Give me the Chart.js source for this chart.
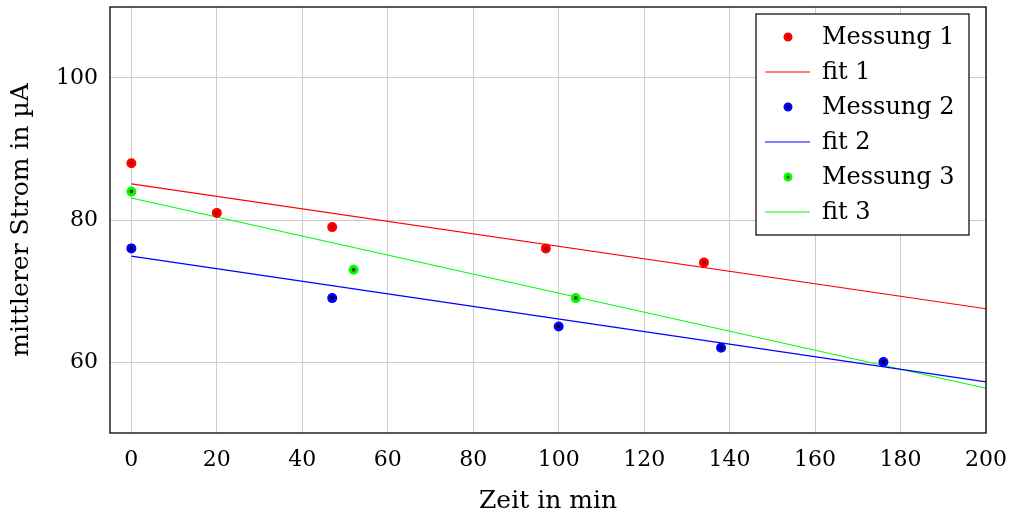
<!DOCTYPE html>
<html>
<head>
<meta charset="utf-8">
<script src="https://cdn.jsdelivr.net/npm/chart.js@4/dist/chart.umd.min.js"></script>
<style>
  html, body { margin: 0; padding: 0; background: #fff; }
  #box { width: 1014px; height: 517px; }
</style>
</head>
<body>
<div id="box"><canvas id="chart" width="1014" height="517"></canvas></div>
<script>
// Messwerte
const time1 = [0, 20, 47, 97, 134];
const strom1 = [88, 81, 79, 76, 74];
const time2 = [0, 47, 100, 138, 176];
const strom2 = [76, 69, 65, 62, 60];
const time3 = [0, 52, 104];
const strom3 = [84, 73, 69];

// Fit-Geraden (Anfang und Ende)
const fitTime = [0, 200];
const fit1 = [85.1, 67.5];
const fit2 = [74.9, 57.2];
const fit3 = [83.1, 56.3];

const xTicks = [0, 20, 40, 60, 80, 100, 120, 140, 160, 180, 200];
const yTicks = [60, 80, 100];

const FONT = "'DejaVu Serif', serif";

function toPoints(xs, ys) {
    return xs.map((x, i) => ({ x: x, y: ys[i] }));
}

function messung(label, xs, ys, col, fill) {
    return {
        label: label,
        data: toPoints(xs, ys),
        showLine: false,
        pointRadius: 3.5,
        pointBorderWidth: 3,
        pointBorderColor: col,
        pointBackgroundColor: fill,
        borderColor: col,
        backgroundColor: fill
    };
}

function fit(label, ys, col) {
    return {
        label: label,
        data: toPoints(fitTime, ys),
        showLine: true,
        pointRadius: 0,
        borderWidth: 1.2,
        borderColor: col,
        backgroundColor: col
    };
}

// Rahmen um den Plotbereich
const frame = {
    id: "frame",
    afterDatasetsDraw(chart) {
        const a = chart.chartArea;
        const ctx = chart.ctx;
        ctx.save();
        ctx.strokeStyle = "#000";
        ctx.lineWidth = 1.3;
        ctx.strokeRect(a.left, a.top, a.right - a.left, a.bottom - a.top);
        ctx.restore();
    }
};

// Legende oben rechts im Plot
const innerLegend = {
    id: "innerLegend",
    afterDraw(chart) {
        const ctx = chart.ctx;
        const x0 = 756, y0 = 14, w = 213, h = 221;
        ctx.save();
        ctx.fillStyle = "#fff";
        ctx.fillRect(x0, y0, w, h);
        ctx.strokeStyle = "#000";
        ctx.lineWidth = 1.2;
        ctx.strokeRect(x0, y0, w, h);
        ctx.font = "24px " + FONT;
        ctx.textBaseline = "middle";
        chart.data.datasets.forEach((ds, i) => {
            const y = 37 + i * 35;
            if (ds.showLine) {
                ctx.strokeStyle = ds.borderColor;
                ctx.lineWidth = 1.2;
                ctx.beginPath();
                ctx.moveTo(765, y);
                ctx.lineTo(810, y);
                ctx.stroke();
            } else {
                ctx.beginPath();
                ctx.arc(788, y, 3, 0, Math.PI * 2);
                ctx.fillStyle = ds.pointBackgroundColor;
                ctx.fill();
                ctx.lineWidth = 3;
                ctx.strokeStyle = ds.pointBorderColor;
                ctx.stroke();
            }
            ctx.fillStyle = "#000";
            ctx.fillText(ds.label, 822, y + 1);
        });
        ctx.restore();
    }
};

new Chart(document.getElementById("chart"), {
    type: "scatter",
    data: {
        datasets: [
            messung("Messung 1", time1, strom1, "#ff0000", "#990000"),
            fit("fit 1", fit1, "#ff0000"),
            messung("Messung 2", time2, strom2, "#0000ff", "#000000"),
            fit("fit 2", fit2, "#0000ff"),
            messung("Messung 3", time3, strom3, "#00ff00", "#504000"),
            fit("fit 3", fit3, "#00ff00")
        ]
    },
    options: {
        responsive: false,
        animation: false,
        layout: { padding: { top: 6, right: 28, left: 0, bottom: 0 } },
        plugins: {
            legend: { display: false },
            tooltip: { enabled: false }
        },
        scales: {
            x: {
                type: "linear",
                min: -5,
                max: 200,
                afterBuildTicks: (s) => { s.ticks = xTicks.map(v => ({ value: v })); },
                afterFit: (s) => { s.height = 84; s.paddingLeft = 0; s.paddingRight = 0; },
                grid: { color: "#cccccc", lineWidth: 1, drawTicks: false },
                border: { display: false },
                ticks: { color: "#000", padding: 14, maxRotation: 0, font: { family: FONT, size: 22 } },
                title: { display: true, text: "Zeit in min", color: "#000", padding: { top: 0, bottom: 1 }, font: { family: FONT, size: 25 } }
            },
            y: {
                type: "linear",
                min: 50,
                max: 110,
                afterBuildTicks: (s) => { s.ticks = yTicks.map(v => ({ value: v })); },
                afterFit: (s) => { s.width = 110; s.paddingTop = 0; s.paddingBottom = 0; },
                grid: { color: "#cccccc", lineWidth: 1, drawTicks: false },
                border: { display: false },
                ticks: { color: "#000", padding: 12, font: { family: FONT, size: 22 } },
                title: { display: true, text: "mittlerer Strom in µA", color: "#000", padding: { top: 6, bottom: 0 }, font: { family: FONT, size: 25 } }
            }
        }
    },
    plugins: [frame, innerLegend]
});
</script>
</body>
</html>
